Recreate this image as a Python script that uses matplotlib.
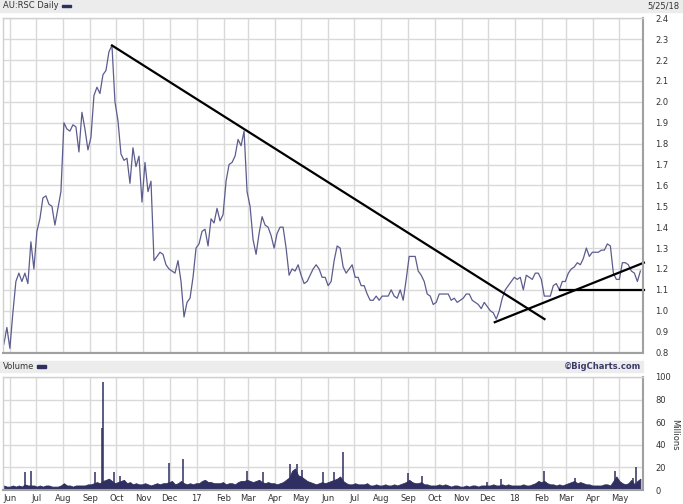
import matplotlib.pyplot as plt
import matplotlib.dates as mdates
from matplotlib.patches import Rectangle
import numpy as np
import pandas as pd

# AU:RSC daily close (roughly every 3.4 days)
price = [
    0.84, 0.92, 0.82, 0.99, 1.14, 1.18, 1.14, 1.18, 1.13,
    1.33, 1.20, 1.38, 1.44, 1.54, 1.55, 1.51, 1.50, 1.41,
    1.49, 1.57, 1.90, 1.87, 1.86, 1.89, 1.88, 1.76, 1.95,
    1.87, 1.77, 1.83, 2.03, 2.07, 2.04, 2.13, 2.15, 2.24,
    2.27, 2.00, 1.91, 1.75, 1.72, 1.73, 1.61, 1.78, 1.69,
    1.74, 1.52, 1.71, 1.57, 1.62, 1.24, 1.26, 1.28, 1.27,
    1.22, 1.20, 1.19, 1.18, 1.24, 1.14, 0.97, 1.04, 1.06,
    1.16, 1.30, 1.32, 1.38, 1.39, 1.31, 1.44, 1.42, 1.49,
    1.43, 1.46, 1.62, 1.70, 1.71, 1.74, 1.82, 1.79, 1.86,
    1.57, 1.50, 1.34, 1.27, 1.37, 1.45, 1.41, 1.40, 1.36,
    1.30, 1.37, 1.40, 1.40, 1.30, 1.17, 1.20, 1.19, 1.22,
    1.17, 1.13, 1.14, 1.17, 1.20, 1.22, 1.20, 1.16, 1.16,
    1.12, 1.14, 1.24, 1.31, 1.30, 1.21, 1.18, 1.20, 1.22,
    1.16, 1.16, 1.12, 1.12, 1.08, 1.05, 1.05, 1.07, 1.05,
    1.07, 1.07, 1.07, 1.10, 1.07, 1.06, 1.10, 1.05, 1.15,
    1.26, 1.26, 1.26, 1.19, 1.17, 1.14, 1.08, 1.07, 1.03,
    1.04, 1.08, 1.08, 1.08, 1.08, 1.05, 1.06, 1.04, 1.05,
    1.06, 1.08, 1.08, 1.05, 1.04, 1.03, 1.01, 1.04, 1.02,
    1.00, 0.99, 0.96, 1.00, 1.06, 1.10, 1.12, 1.14, 1.16,
    1.15, 1.16, 1.10, 1.17, 1.16, 1.15, 1.18, 1.18, 1.15,
    1.07, 1.07, 1.07, 1.12, 1.13, 1.10, 1.14, 1.14, 1.18,
    1.20, 1.21, 1.23, 1.22, 1.25, 1.30, 1.26, 1.28, 1.28,
    1.28, 1.29, 1.29, 1.32, 1.31, 1.18, 1.15, 1.15, 1.23,
    1.23, 1.22, 1.19, 1.18, 1.14, 1.19,
]

# volume in millions, same dates
volume = [
    4, 3, 3, 4, 3, 4, 3, 5, 4,
    4, 4, 3, 4, 3, 4, 4, 3, 3,
    3, 4, 6, 4, 4, 3, 4, 4, 4,
    4, 5, 5, 6, 7, 6, 8, 9, 10,
    8, 6, 7, 8, 9, 6, 7, 5, 6,
    5, 5, 6, 5, 4, 5, 6, 5, 6,
    6, 7, 8, 5, 6, 8, 6, 5, 6,
    5, 6, 6, 8, 9, 7, 7, 6, 6,
    6, 7, 5, 6, 6, 5, 7, 8, 8,
    9, 8, 7, 8, 9, 7, 6, 7, 6,
    6, 5, 6, 7, 9, 11, 17, 19, 13,
    12, 10, 8, 7, 6, 5, 6, 7, 6,
    7, 8, 9, 10, 12, 8, 6, 5, 5,
    6, 5, 5, 5, 6, 4, 4, 5, 4,
    4, 5, 4, 4, 5, 4, 5, 6, 7,
    9, 7, 6, 6, 7, 5, 5, 4, 4,
    4, 5, 4, 5, 4, 3, 4, 4, 3,
    3, 4, 3, 4, 4, 3, 4, 4, 4,
    4, 5, 4, 4, 5, 4, 5, 4, 4,
    4, 4, 5, 4, 4, 5, 6, 8, 7,
    8, 6, 5, 5, 4, 5, 4, 5, 6,
    7, 8, 6, 7, 6, 5, 5, 4, 4,
    4, 4, 5, 5, 4, 8, 12, 8, 6,
    5, 6, 9, 5, 8, 10,
]

# single-day volume spikes (millions)
spike_dates = ['2016-06-18', '2016-06-25', '2016-09-06', '2016-09-15', '2016-09-16',
               '2016-09-28', '2016-10-05', '2016-11-30', '2016-12-16', '2017-02-28',
               '2017-03-18', '2017-04-18', '2017-04-26', '2017-05-02', '2017-05-26',
               '2017-06-08', '2017-06-18', '2017-08-31', '2017-09-16', '2017-11-30',
               '2017-12-16', '2018-02-04', '2018-03-11', '2018-04-26', '2018-05-16',
               '2018-05-20']
spike_vols = [16, 17, 16, 55, 96, 16, 12, 24, 27, 17, 16, 23, 23, 18, 16, 16, 34,
              15, 12, 7, 10, 17, 11, 17, 11, 20]

# trend lines drawn on the chart
down_dates = ['2016-09-26', '2018-02-04']
down_vals = [2.27, 0.96]
up_dates = ['2017-12-09', '2018-05-29']
up_vals = [0.945, 1.23]
flat_dates = ['2018-02-22', '2018-05-29']
flat_vals = [1.10, 1.10]

month_ticks = pd.date_range('2016-06-01', '2018-05-01', freq='MS')
month_labels = ['Jun', 'Jul', 'Aug', 'Sep', 'Oct', 'Nov', 'Dec', '17', 'Feb', 'Mar',
                'Apr', 'May', 'Jun', 'Jul', 'Aug', 'Sep', 'Oct', 'Nov', 'Dec', '18',
                'Feb', 'Mar', 'Apr', 'May']
price_ticks = [0.8, 0.9, 1.0, 1.1, 1.2, 1.3, 1.4, 1.5, 1.6, 1.7, 1.8, 1.9, 2.0,
               2.1, 2.2, 2.3, 2.4]
vol_ticks = [0, 20, 40, 60, 80, 100]

dates = pd.date_range('2016-05-25', '2018-05-25', periods=len(price))
xmin, xmax = pd.Timestamp('2016-05-24'), pd.Timestamp('2018-05-28')

line_col = '#5c5c8e'
vol_col = '#2f2f62'
grid_col = '#d9d9d9'
band_col = '#ececec'
W, H = 683, 504
fs = 6

fig = plt.figure(figsize=(W / 100, H / 100), dpi=100)
fig.patches.append(Rectangle((0, 1 - 12 / H), 1, 12 / H, transform=fig.transFigure,
                             color=band_col, zorder=0))
fig.patches.append(Rectangle((0, 1 - 372 / H), 643 / W, 11 / H, transform=fig.transFigure,
                             color=band_col, zorder=0))

ax = fig.add_axes([3 / W, 1 - 352.5 / H, 640 / W, 334.2 / H])
axv = fig.add_axes([3 / W, 1 - 490 / H, 640 / W, 113 / H])


def style(a):
    a.set_xlim(xmin, xmax)
    a.set_xticks(month_ticks)
    a.grid(True, color=grid_col, lw=1)
    a.set_axisbelow(True)
    a.yaxis.tick_right()
    a.tick_params(length=0, labelsize=fs, colors='#333333')
    a.tick_params(axis='y', pad=9)
    for s in ['left', 'top']:
        a.spines[s].set_color('#d0d0d0')
        a.spines[s].set_linewidth(1)
    for s in ['bottom', 'right']:
        a.spines[s].set_color('#a0a0a0')
        a.spines[s].set_linewidth(1.5)


style(ax)
ax.plot(dates, price, color=line_col, lw=0.9)
ax.plot(pd.to_datetime(down_dates), down_vals, color='black', lw=1.6)
ax.plot(pd.to_datetime(up_dates), up_vals, color='black', lw=1.6, clip_on=False)
ax.plot(pd.to_datetime(flat_dates), flat_vals, color='black', lw=1.6, clip_on=False)
ax.set_ylim(0.8, 2.4)
ax.set_yticks(price_ticks)
ax.set_yticklabels([f'{v:.1f}' for v in price_ticks], ha='left')
ax.set_xticklabels([])

style(axv)
axv.fill_between(dates, volume, color=vol_col, lw=0.6, edgecolor=vol_col)
axv.vlines(pd.to_datetime(spike_dates), 0, spike_vols, color=vol_col, lw=1.1)
axv.set_ylim(0, 100)
axv.set_yticks(vol_ticks)
axv.set_yticklabels([str(v) for v in vol_ticks], ha='left')
axv.set_xticklabels(month_labels)
axv.tick_params(axis='x', pad=3)

fig.text(3 / W, 1 - 6 / H, 'AU:RSC Daily', fontsize=fs, va='center', color='#333333')
fig.patches.append(Rectangle((62 / W, 1 - 7 / H), 9 / W, 2.5 / H,
                             transform=fig.transFigure, color=vol_col))
fig.text(680 / W, 1 - 6 / H, '5/25/18', fontsize=fs, va='center', ha='right',
         color='#333333')
fig.text(3 / W, 1 - 366.5 / H, 'Volume', fontsize=fs, va='center', color='#333333')
fig.patches.append(Rectangle((37 / W, 1 - 367.5 / H), 9 / W, 2.5 / H,
                             transform=fig.transFigure, color=vol_col))
fig.text(641 / W, 1 - 366.5 / H, '©BigCharts.com', fontsize=fs, va='center',
         ha='right', color='#3a3a6a', fontweight='bold')
fig.text(675 / W, 1 - 435 / H, 'Millions', fontsize=fs, va='center', ha='center',
         rotation=270, color='#333333')

fig.savefig('out.png', dpi=100)
